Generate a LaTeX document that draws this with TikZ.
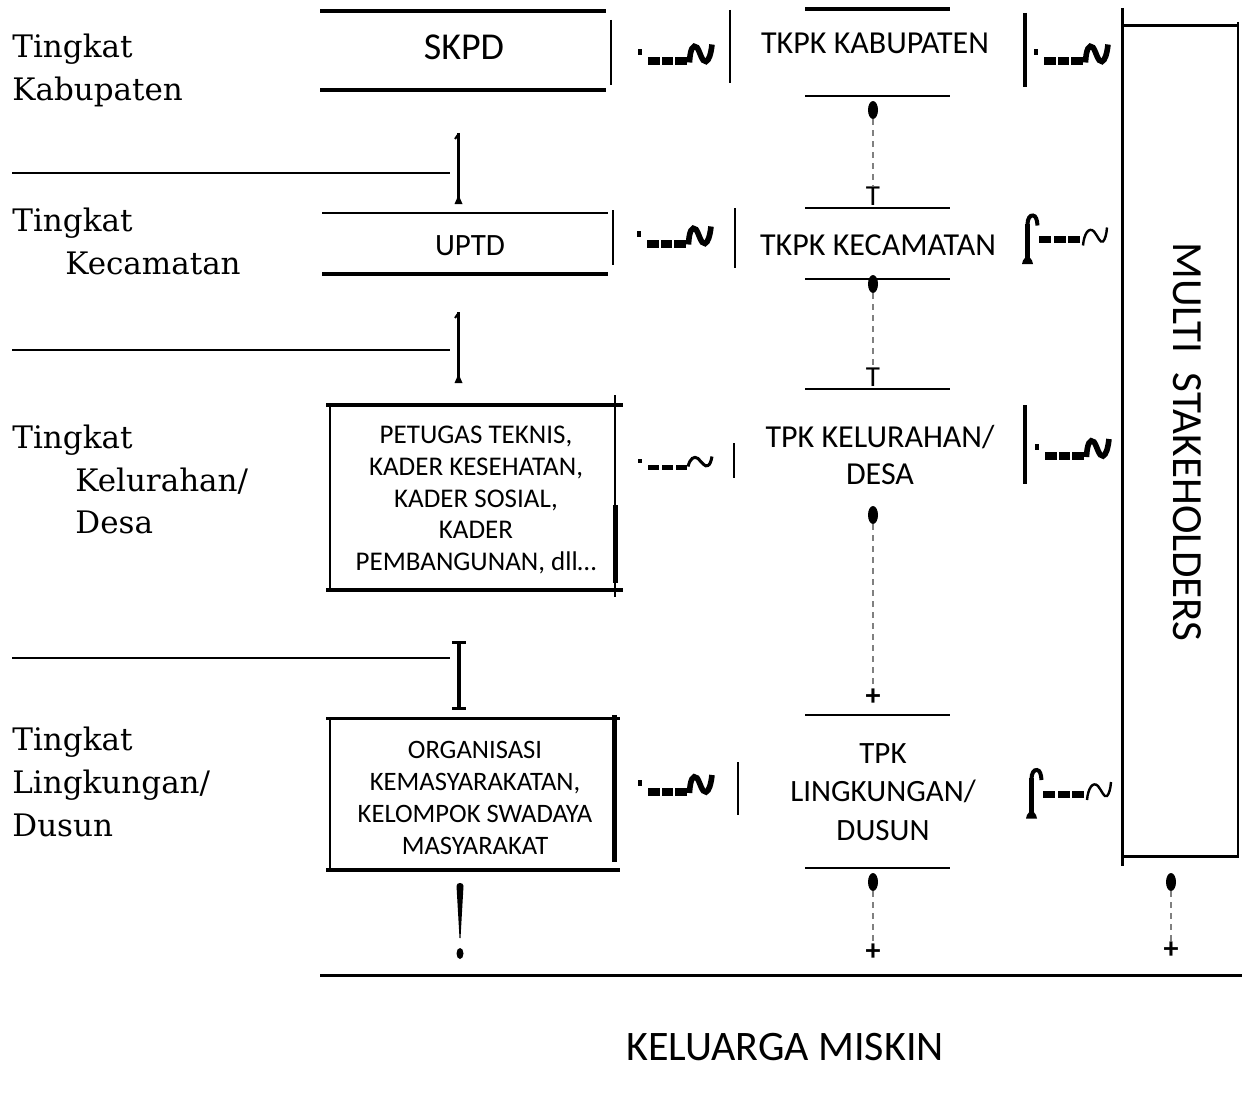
\documentclass[tikz,border=0pt]{standalone}
\usepackage{fontspec}
\setmainfont{DejaVu Serif}
\newfontfamily\carl{Carlito}
\usetikzlibrary{shapes.geometric}
\tikzset{
  thickl/.style={line width=2pt},
  thinl/.style={line width=0.8pt},
  dashl/.style={gray, line width=0.6pt, dash pattern=on 3pt off 2.5pt},
  dotn/.style={ellipse, fill, inner sep=0pt, minimum width=5pt, minimum height=9pt},
  smallmark/.style={font=\carl\fontsize{14.5}{16}\selectfont, inner sep=0pt},
  plusmark/.style={font=\carl\bfseries\fontsize{15}{16}\selectfont, inner sep=0pt},
  lbl/.style={font=\fontsize{15.5}{18}\selectfont, anchor=base west, inner sep=0pt},
  sanstxt/.style={font=\carl\fontsize{16}{18.5}\selectfont, align=center, inner sep=0pt},
  garbbold/.pic={
    \fill (0,-12.5) rectangle (4,-6.5);
    \fill (10,-4) rectangle (21.5,4);
    \fill (23.5,-4) rectangle (35,4);
    \fill (37,-4) rectangle (49,4);
    \draw[line width=2.8pt] (51.5,1) .. controls (52,-12) and (55,-18) .. (59,-14)
       .. controls (62,-10) and (64,1) .. (68,0) .. controls (71,-1) and (73,-8) .. (74,-17);
  },
  garblight/.pic={
    \fill (0,-8.5) rectangle (4,-4.5);
    \fill (10,-2.5) rectangle (21,2.5);
    \fill (24,-2.5) rectangle (35,2.5);
    \fill (38,-2.5) rectangle (49,2.5);
    \draw[line width=1.5pt] (50,-1) .. controls (52,-9) and (56,-12) .. (60,-9)
       .. controls (64,-5) and (67,0) .. (70,-2) .. controls (72,-3) and (73,-6) .. (74,-11);
  },
  garbhook/.pic={
    \draw[line width=2.4pt] (5.5,-16) -- (5.5,21);
    \fill (0,24.5) -- (1,21) -- (4,17) -- (7,17) -- (10,21) -- (11,24.5) -- cycle;
    \draw[line width=2pt] (5.5,-15) .. controls (5.5,-21) and (8,-24.5) .. (11,-24)
       .. controls (14,-23.5) and (15,-20) .. (15.5,-14);
    \fill (17,-3.5) rectangle (29,3.5);
    \fill (31.5,-3.5) rectangle (43.5,3.5);
    \fill (46,-3.5) rectangle (58,3.5);
    \draw[line width=1.2pt] (61,6) .. controls (62,-6) and (67,-13) .. (72,-8)
       .. controls (76,-3) and (78,4) .. (81,2) .. controls (83,0) and (84.5,-5) .. (85,-12);
  },
  barglyph/.pic={
    \draw[line width=1.5pt] (0,0) -- (0,70);
    \draw[line width=1pt] (0,1) -- (-3.5,6);
    \fill (-4,71) -- (4,71) -- (0,62) -- cycle;
  },
}
\begin{document}
\begin{tikzpicture}[x=0.5pt,y=-0.5pt]
\useasboundingbox (0,0) rectangle (1242,1113);

% ---- left labels
\node[lbl] (l1a) at (12,58) {Tingkat};
\node[lbl] (l1b) at (12,101) {Kabupaten};
\node[lbl] (l2a) at (12,231) {Tingkat};
\node[lbl] (l2b) at (65,274) {Kecamatan};
\node[lbl] (l3a) at (12,448) {Tingkat};
\node[lbl] (l3b) at (75,491) {Kelurahan/};
\node[lbl] (l3c) at (75,533) {Desa};
\node[lbl] (l4a) at (12,750) {Tingkat};
\node[lbl] (l4b) at (12,793) {Lingkungan/};
\node[lbl] (l4c) at (12,836) {Dusun};

% ---- left separator lines and glyphs
\draw[line width=1pt] (12,173) -- (450,173);
\draw[line width=1pt] (12,350) -- (450,350);
\draw[line width=1pt] (12,658) -- (450,658);
\pic at (458.5,133) {barglyph};
\pic at (458.5,312) {barglyph};
\draw[line width=2pt] (459,642) -- (459,708);
\draw[line width=1.5pt] (452,642) -- (466,642);
\draw[line width=1.5pt] (452,708) -- (466,708);
\fill (456.5,886) .. controls (456.5,882) and (463.5,882) .. (463.5,886) -- (460.5,938) -- (459.5,938) -- cycle;
\fill (460,953.5) ellipse [x radius=3.5, y radius=5.5];

% ---- row 1
\draw[thickl] (320,11) -- (606,11);
\draw[thickl] (320,90) -- (606,90);
\node[font=\carl\fontsize{19}{22}\selectfont, inner sep=0pt] (skpd) at (464,47) {SKPD};
\draw[line width=1pt] (611,20) -- (611,85);
\pic at (638,61.5) {garbbold};
\draw[thinl] (730,10) -- (730,83);
\draw[thickl] (805,9) -- (950,9);
\node[sanstxt] (tkab) at (875,43) {TKPK KABUPATEN};
\draw[thinl] (805,96) -- (950,96);
\draw[line width=2pt] (1024.5,13) -- (1024.5,87);
\pic at (1034,61.5) {garbbold};
\node[dotn] (d1) at (873,110) {};
\node[smallmark] (t1) at (873,196) {T};
\draw[dashl] (d1) -- (t1);
\draw[thinl] (805,208) -- (950,208);

% ---- row 2
\draw[thinl] (322,213) -- (608,213);
\draw[thickl] (322,274) -- (608,274);
\node[font=\carl\fontsize{15.5}{18}\selectfont, inner sep=0pt] (uptd) at (470,246) {UPTD};
\draw[line width=1pt] (613,210) -- (613,265);
\pic at (637,243.5) {garbbold};
\draw[thinl] (735,208) -- (735,268);
\node[sanstxt] (tkec) at (878,245) {TKPK KECAMATAN};
\draw[thinl] (805,279) -- (950,279);
\node[dotn] (d2) at (873,284) {};
\node[smallmark] (t2) at (873,377) {T};
\draw[dashl] (d2) -- (t2);
\draw[thinl] (805,389) -- (950,389);
\pic at (1022,239.5) {garbhook};

% ---- row 3
\draw[thickl] (326,405) -- (623,405);
\draw[line width=1pt] (329.5,405) -- (329.5,590);
\draw[thickl] (326,590) -- (623,590);
\draw[line width=1pt] (615,395) -- (615,597);
\draw[line width=2.5pt] (615,505) -- (615,583);
\node[font=\carl\fontsize{13.5}{15.8}\selectfont, align=center, inner sep=0pt] (box3) at (476,500)
  {PETUGAS TEKNIS,\\KADER KESEHATAN,\\KADER SOSIAL,\\KADER\\PEMBANGUNAN, dll\dots};
\pic at (638,467.5) {garblight};
\draw[line width=0.6pt] (734,443) -- (734,478);
\node[sanstxt, font=\carl\fontsize{16}{18.5}\selectfont] (tkel) at (880,455) {TPK KELURAHAN/\\DESA};
\draw[line width=2pt] (1025,405) -- (1025,484);
\pic at (1035,456) {garbbold};
\node[dotn] (d3) at (873,515) {};
\node[plusmark] (p3) at (873,697) {+};
\draw[dashl] (d3) -- (p3);
\draw[thinl] (805,715) -- (950,715);

% ---- row 4
\draw[line width=1.5pt] (326,718) -- (620,718);
\draw[line width=1pt] (330,718) -- (330,870);
\draw[thickl] (326,870) -- (620,870);
\draw[line width=2.5pt] (614,715) -- (614,862);
\node[font=\carl\fontsize{13.3}{16}\selectfont, align=center, inner sep=0pt] (box4) at (475,798)
  {ORGANISASI\\KEMASYARAKATAN,\\KELOMPOK SWADAYA\\MASYARAKAT};
\pic at (638,792) {garbbold};
\draw[thinl] (738,762) -- (738,815);
\node[font=\carl\fontsize{15.5}{19.25}\selectfont, align=center, inner sep=0pt] (tling) at (883,792)
  {TPK\\LINGKUNGAN/\\DUSUN};
\draw[thinl] (805,868) -- (950,868);
\node[dotn] (d4) at (873,882) {};
\node[plusmark] (p4) at (873,952) {+};
\draw[dashl] (d4) -- (p4);
\pic at (1026,794) {garbhook};

% ---- multi stakeholders
\draw[line width=1.5pt] (1122,8) -- (1122,866);
\draw[line width=1.5pt] (1122,26) -- (1239,26);
\draw[line width=1pt] (1238,22) -- (1238,858);
\draw[line width=1.5pt] (1122,856) -- (1239,856);
\node[font=\carl\fontsize{21.5}{24}\selectfont, rotate=-90, inner sep=0pt] (multi) at (1187,442) {MULTI\ \ STAKEHOLDERS};
\node[dotn] (d5) at (1171,882) {};
\node[plusmark] (p5) at (1171,950) {+};
\draw[dashl] (d5) -- (p5);

% ---- bottom
\draw[line width=1.5pt] (320,975) -- (1242,975);
\node[font=\carl\fontsize{21}{24}\selectfont, inner sep=0pt] (kel) at (785,1047) {KELUARGA MISKIN};
\end{tikzpicture}
\end{document}
